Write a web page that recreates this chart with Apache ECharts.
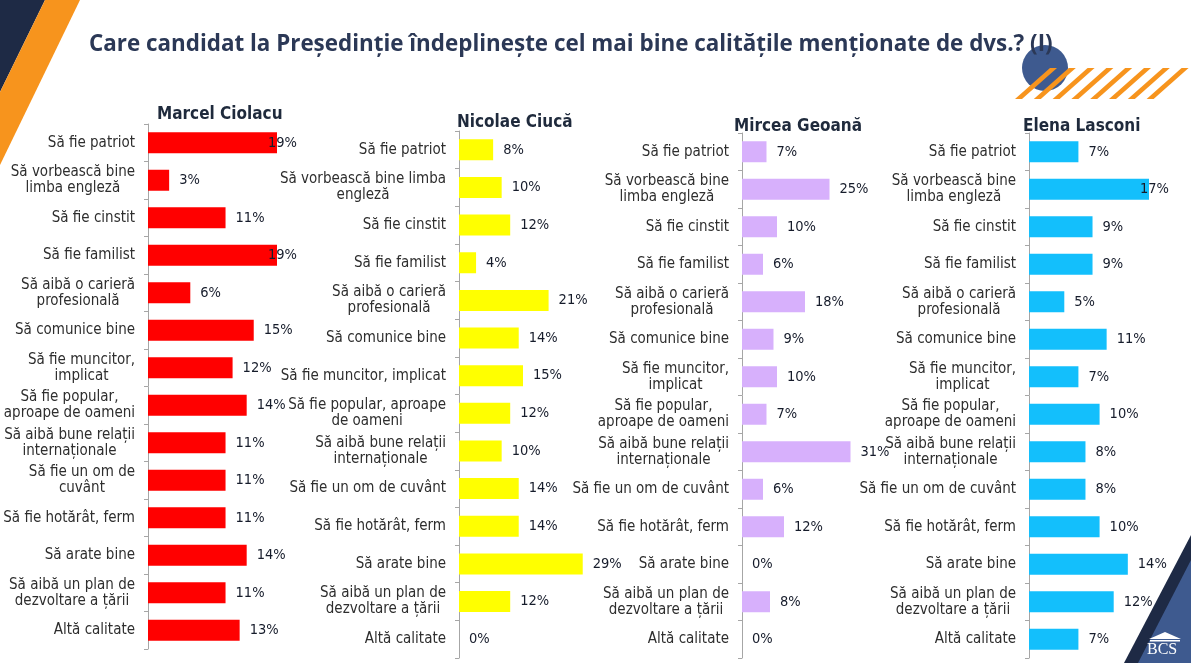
<!DOCTYPE html>
<html>
<head>
<meta charset="utf-8">
<script src="https://cdn.jsdelivr.net/npm/echarts@6/dist/echarts.min.js"></script>
<style>
html,body{margin:0;padding:0;background:#fff;}
#chart{width:1191px;height:663px;}
</style>
</head>
<body>
<div id="chart"></div>
<script>
// ---- data ----
const mainTitle = "Care candidat la Președinție îndeplinește cel mai bine calitățile menționate de dvs.? (I)";
const candidates = ["Marcel Ciolacu", "Nicolae Ciucă", "Mircea Geoană", "Elena Lasconi"];

const labelsCiolacu = [
  "Să fie patriot", "Să vorbească bine\nlimba engleză", "Să fie cinstit", "Să fie familist",
  "Să aibă o carieră\nprofesională", "Să comunice bine", "Să fie muncitor,\nimplicat",
  "Să fie popular,\naproape de oameni", "Să aibă bune relații\ninternaționale", "Să fie un om de\ncuvânt",
  "Să fie hotărât, ferm", "Să arate bine", "Să aibă un plan de\ndezvoltare a țării", "Altă calitate"
];
const labelsCiuca = [
  "Să fie patriot", "Să vorbească bine limba\nengleză", "Să fie cinstit", "Să fie familist",
  "Să aibă o carieră\nprofesională", "Să comunice bine", "Să fie muncitor, implicat",
  "Să fie popular, aproape\nde oameni", "Să aibă bune relații\ninternaționale", "Să fie un om de cuvânt",
  "Să fie hotărât, ferm", "Să arate bine", "Să aibă un plan de\ndezvoltare a țării", "Altă calitate"
];
const labelsGeoanaLasconi = [
  "Să fie patriot", "Să vorbească bine\nlimba engleză", "Să fie cinstit", "Să fie familist",
  "Să aibă o carieră\nprofesională", "Să comunice bine", "Să fie muncitor,\nimplicat",
  "Să fie popular,\naproape de oameni", "Să aibă bune relații\ninternaționale", "Să fie un om de cuvânt",
  "Să fie hotărât, ferm", "Să arate bine", "Să aibă un plan de\ndezvoltare a țării", "Altă calitate"
];

const valuesCiolacu = [19, 3, 11, 19, 6, 15, 12, 14, 11, 11, 11, 14, 11, 13];
const valuesCiuca   = [8, 10, 12, 4, 21, 14, 15, 12, 10, 14, 14, 29, 12, 0];
const valuesGeoana  = [7, 25, 10, 6, 18, 9, 10, 7, 31, 6, 12, 0, 8, 0];
const valuesLasconi = [7, 17, 9, 9, 5, 11, 7, 10, 8, 8, 10, 14, 12, 7];

// ---- layout / style ----
const panels = [
  {labels: labelsCiolacu, values: valuesCiolacu, color: "#FF0000", left: 148, top: 124, height: 525, width: 129, max: 18.3, tx: 157, ty: 106},
  {labels: labelsCiuca, values: valuesCiuca, color: "#FFFF00", left: 459, top: 131, height: 527, width: 128, max: 30, tx: 457, ty: 114},
  {labels: labelsGeoanaLasconi, values: valuesGeoana, color: "#D7B0FC", left: 742, top: 133, height: 525, width: 112, max: 32, tx: 734, ty: 118},
  {labels: labelsGeoanaLasconi, values: valuesLasconi, color: "#13BFFC", left: 1029, top: 133, height: 525, width: 120, max: 17, tx: 1023, ty: 118}
];
const FONT = '"DejaVu Sans Condensed", "DejaVu Sans", sans-serif';

const grids = [], xAxes = [], yAxes = [], series = [], titles = [];
titles.push({
  text: mainTitle, left: 89, top: 34, padding: 0,
  textStyle: {fontFamily: '"Open Sans", Lato, sans-serif', fontSize: 22.4, fontWeight: 'bold', color: '#2B3856'}
});
panels.forEach((p, i) => {
  grids.push({left: p.left, top: p.top, width: p.width, height: p.height, containLabel: false});
  xAxes.push({type: 'value', gridIndex: i, min: 0, max: p.max, show: false, splitLine: {show: false}});
  yAxes.push({
    type: 'category', gridIndex: i, inverse: true, data: p.labels,
    axisLine: {show: true, lineStyle: {color: '#A6A6A6', width: 1}},
    axisTick: {show: true, length: 4, lineStyle: {color: '#A6A6A6'}},
    axisLabel: {
      margin: 13, align: 'right',
      formatter: v => '{c|' + v + '}',
      rich: {c: {align: 'center', fontFamily: FONT, fontSize: 15, color: '#2E2E2E', lineHeight: 16}}
    }
  });
  series.push({
    type: 'bar', xAxisIndex: i, yAxisIndex: i, barWidth: 21, clip: true,
    itemStyle: {color: p.color},
    label: {show: true, position: 'right', distance: 10, formatter: '{c}%',
      fontFamily: FONT, fontSize: 14.5, color: '#161C2B'},
    data: p.values.map(v => v >= p.max ? {value: v, label: {offset: [-19, 0]}} : v)
  });
  titles.push({
    text: candidates[i], left: p.tx, top: p.ty, padding: 0,
    textStyle: {fontFamily: FONT, fontSize: 17, fontWeight: 'bold', color: '#1F2A3C'}
  });
});

const stripes = [];
for (let k = 0; k < 8; k++) {
  const x = 1015 + k * 18.8;
  stripes.push({type: 'polygon', shape: {points: [[x, 99], [x + 7, 99], [x + 42, 68], [x + 35, 68]]}, style: {fill: '#F7941D'}, z: 2});
}

const graphics = [
  {type: 'polygon', shape: {points: [[0, 0], [45, 0], [0, 92]]}, style: {fill: '#1E2A45'}},
  {type: 'polygon', shape: {points: [[45, 0], [80, 0], [0, 165], [0, 92]]}, style: {fill: '#F7941D'}},
  {type: 'circle', shape: {cx: 1045, cy: 68, r: 23}, style: {fill: '#3E5A8F'}, z: 1},
  ...stripes,
  {type: 'polygon', shape: {points: [[1191, 535], [1191, 663], [1124, 663]]}, style: {fill: '#1E2A45'}},
  {type: 'polygon', shape: {points: [[1191, 560], [1191, 663], [1138, 663]]}, style: {fill: '#3E5A8F'}},
  {type: 'polygon', shape: {points: [[1149, 639], [1165, 632], [1181, 639]]}, style: {fill: '#FFFFFF'}},
  {type: 'rect', shape: {x: 1150, y: 640, width: 30, height: 1.5}, style: {fill: '#FFFFFF'}},
  {type: 'text', x: 1147, y: 642, style: {text: 'BCS', fill: '#FFFFFF', font: '16px "Liberation Serif", serif'}}
];

const chart = echarts.init(document.getElementById('chart'), null, {renderer: 'canvas'});
chart.setOption({
  backgroundColor: '#FFFFFF',
  animation: false,
  title: titles,
  grid: grids,
  xAxis: xAxes,
  yAxis: yAxes,
  series: series,
  graphic: graphics
});
</script>
</body>
</html>
